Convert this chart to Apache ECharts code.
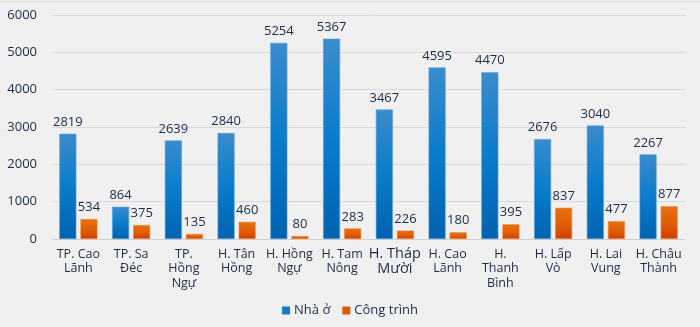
<!DOCTYPE html>
<html>
<head>
<meta charset="utf-8">
<script src="https://cdn.jsdelivr.net/npm/echarts@6/dist/echarts.min.js"></script>
<style>
  html, body { margin: 0; padding: 0; background: #f0f0f0; }
  #chart { width: 700px; height: 327px; }
</style>
</head>
<body>
<div id="chart"></div>
<script>
// Districts / cities of Đồng Tháp
const categories = [
  'TP. Cao\nLãnh', 'TP. Sa\nĐéc', 'TP.\nHồng\nNgự', 'H. Tân\nHồng', 'H. Hồng\nNgự',
  'H. Tam\nNông', 'H. Tháp\nMười', 'H. Cao\nLãnh', 'H.\nThanh\nBình', 'H. Lấp\nVò',
  'H. Lai\nVung', 'H. Châu\nThành'
];
const nhaO = [2819, 864, 2639, 2840, 5254, 5367, 3467, 4595, 4470, 2676, 3040, 2267];
const congTrinh = [534, 375, 135, 460, 80, 283, 226, 180, 395, 837, 477, 877];
const yTicks = [0, 1000, 2000, 3000, 4000, 5000, 6000];

const textColor = '#1c2b4a';
const font = '"Open Sans", "Noto Sans", sans-serif';

const blueGrad = new echarts.graphic.LinearGradient(0, 0, 0, 1, [
  { offset: 0, color: '#3b8ccc' },
  { offset: 0.5, color: '#0a7ccc' },
  { offset: 1, color: '#0062b0' }
]);
const orangeGrad = new echarts.graphic.LinearGradient(0, 0, 0, 1, [
  { offset: 0, color: '#e8700e' },
  { offset: 0.6, color: '#e05a06' },
  { offset: 1, color: '#d03c00' }
]);

const chart = echarts.init(document.getElementById('chart'));
chart.setOption({
  backgroundColor: '#f0f0f0',
  animation: false,
  textStyle: { fontFamily: font },
  grid: { left: 52, right: 15, top: 15, bottom: 88 },
  graphic: [{
    type: 'line',
    shape: { x1: 0, y1: 1.5, x2: 700, y2: 1.5 },
    style: { stroke: '#dcdcdc', lineWidth: 1 },
    silent: true
  }],
  legend: {
    bottom: 5,
    left: 'center',
    itemWidth: 8,
    itemHeight: 8,
    itemGap: 12,
    icon: 'rect',
    textStyle: { color: textColor, fontSize: 13, fontFamily: font, padding: [0, 0, 0, -1] },
    data: [
      { name: 'Nhà ở', itemStyle: { color: '#1a78c8', borderWidth: 0 } },
      { name: 'Công trình', itemStyle: { color: '#e05a06', borderWidth: 0 } }
    ]
  },
  xAxis: {
    type: 'category',
    data: categories,
    axisTick: { show: false },
    axisLine: { lineStyle: { color: '#d0d0d0' } },
    axisLabel: {
      color: textColor,
      fontSize: 12.5,
      lineHeight: 14.5,
      interval: 0,
      margin: 8,
      fontFamily: font,
      rich: { big: { fontSize: 14.5, lineHeight: 14.5, color: textColor } },
      formatter: function (v) {
        if (v.indexOf('Tháp') >= 0) {
          return v.split('\n').map(s => '{big|' + s + '}').join('\n');
        }
        return v;
      }
    }
  },
  yAxis: {
    type: 'value',
    min: yTicks[0],
    max: yTicks[yTicks.length - 1],
    interval: 1000,
    axisLabel: {
      color: textColor, fontSize: 13, margin: 15, fontFamily: font,
      formatter: function (v) { return String(v); }
    },
    splitLine: { lineStyle: { color: '#d9d9d9' } }
  },
  series: [
    {
      name: 'Nhà ở',
      type: 'bar',
      data: nhaO,
      barWidth: 17,
      barGap: '24%',
      barCategoryGap: '22%',
      itemStyle: { color: blueGrad, borderColor: '#5aa0d8', borderWidth: 0.6 },
      label: { show: true, position: 'top', distance: 5, color: textColor, fontSize: 13, fontFamily: font }
    },
    {
      name: 'Công trình',
      type: 'bar',
      data: congTrinh,
      barWidth: 17,
      itemStyle: { color: orangeGrad, borderColor: '#f08a40', borderWidth: 0.6 },
      label: { show: true, position: 'top', distance: 5, color: textColor, fontSize: 13, fontFamily: font }
    }
  ]
});
</script>
</body>
</html>
